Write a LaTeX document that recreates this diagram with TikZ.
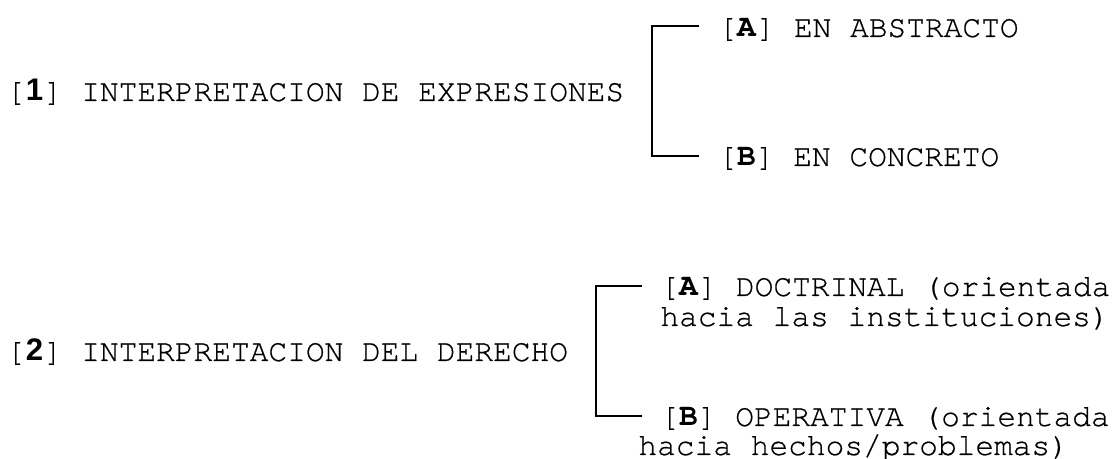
\documentclass[tikz,border=0pt]{standalone}
\usepackage{fontspec}
\setmainfont{TeX Gyre Cursor}[UprightFeatures={FakeBold=0.6}]
\setsansfont{Liberation Sans}
\usetikzlibrary{positioning}
\newcommand{\numkey}[1]{[\makebox[0.6em]{\sffamily\bfseries #1}]}
\newcommand{\letkey}[1]{[\textbf{#1}]}
\tikzset{
  txt/.style={anchor=base west, inner sep=0pt, font=\fontsize{15.6}{18}\selectfont},
  bracket/.style={line width=1pt}
}
\begin{document}
\begin{tikzpicture}[x=0.5pt,y=-0.5pt]
\useasboundingbox (0,0) rectangle (1114,459);
%first scheme
\node[txt] (e1) at (6,101) {\numkey{1} INTERPRETACION DE EXPRESIONES};
\node[txt] (e1a) at (718,37) {\letkey{A} EN ABSTRACTO};
\node[txt] (e1b) at (718,166) {\letkey{B} EN CONCRETO};
\coordinate (t1) at (699,26);
\coordinate (u1) at (699,156);
\draw[bracket] (t1) -- ++(-47,0) |- (u1);
%second scheme
\node[txt] (e2) at (6,361) {\numkey{2} INTERPRETACION DEL DERECHO};
\node[txt] (e2a) at (660,296) {\letkey{A} DOCTRINAL (orientada};
\node[txt] (e2a2) at (660,326) {hacia las instituciones)};
\node[txt] (e2b) at (660,426) {\letkey{B} OPERATIVA (orientada};
\node[txt] (e2b2) at (638,455) {hacia hechos/problemas)};
\coordinate (t2) at (642,286);
\coordinate (u2) at (642,416);
\draw[bracket] (t2) -- ++(-46,0) |- (u2);
\end{tikzpicture}
\end{document}
